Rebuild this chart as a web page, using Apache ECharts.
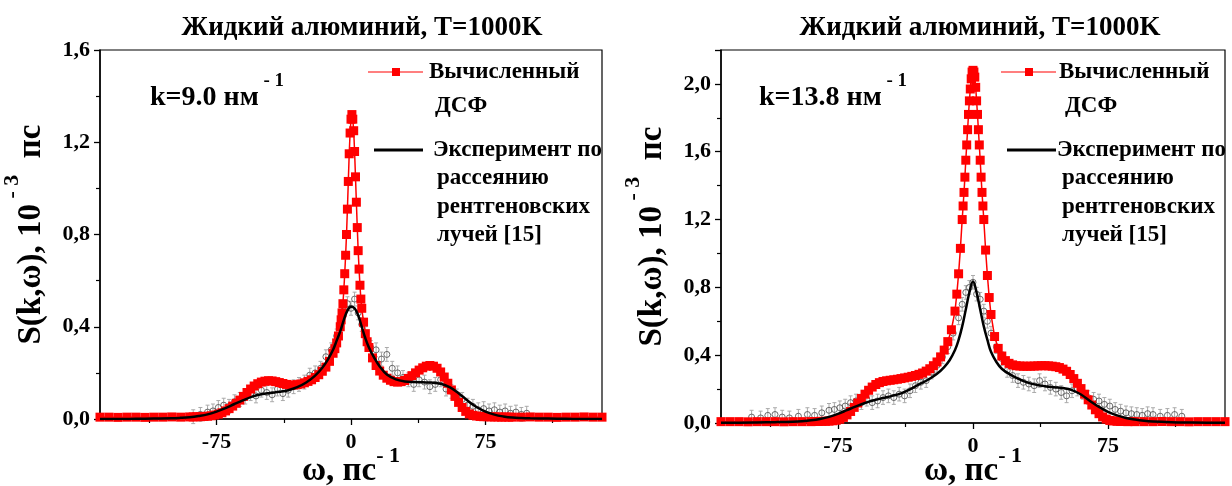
<!DOCTYPE html>
<html>
<head>
<meta charset="utf-8">
<script src="https://cdn.jsdelivr.net/npm/echarts@6/dist/echarts.min.js"></script>
<style>
  html, body { margin: 0; padding: 0; background: #fff; }
  #chart { width: 1232px; height: 486px; }
</style>
</head>
<body>
<div id="chart"></div>
<script>
// === Données ===
const titre = "Жидкий алюминий, T=1000K";
const kLabels = ["k=9.0 нм", "k=13.8 нм"];
const yMax = [1.6, 2.2];
const xMajorTicks = [-75, 0, 75];
const xMinorTicks = [-112.5, -37.5, 37.5, 112.5];

// DSF calculée (carrés rouges)
const omegaCalc = [-140,-135,-130,-125,-120,-115,-110,-105,-100,-95,
  -90,-88,-86,-84,-82,-80,-78,-76,-74,-72,-70,-68,-66,-64,-62,-60,-58,-56,-54,-52,
  -50,-48,-46,-44,-42,-40,-38,-36,-34,-32,-30,-28,-26,-24,-22,-20,-18,-16,-14,-12,-10,
  -9,-8,-7,-6,
  -5.5,-5,-4.5,-4,-3.5,-3,-2.5,-2,-1.5,-1,-0.5,0,0.5,1,1.5,2,2.5,3,3.5,4,4.5,5,5.5,6,
  7,8,9,10,
  12,14,16,18,20,22,24,26,28,30,32,34,36,38,40,42,44,46,48,50,
  52,54,56,58,60,62,64,66,68,70,72,74,76,78,80,82,84,86,88,90,
  95,100,105,110,115,120,125,130,135,140];

const sCalc9 = [0.008,0.008,0.007,0.008,0.008,0.007,0.008,0.008,0.009,0.008,
  0.009,0.009,0.01,0.01,0.011,0.012,0.014,0.017,0.021,0.027,
  0.035,0.045,0.056,0.068,0.082,0.098,0.115,0.13,0.143,0.153,
  0.16,0.164,0.166,0.165,0.162,0.158,0.154,0.15,0.147,0.147,
  0.149,0.152,0.157,0.163,0.17,0.18,0.192,0.207,0.225,0.25,0.285,
  0.305,0.33,0.36,0.4,
  0.43,0.46,0.5,0.56,0.63,0.71,0.8,0.91,1.03,1.15,1.24,1.3,1.32,1.3,1.25,1.16,1.05,0.94,0.83,0.73,0.65,0.58,0.52,0.48,
  0.42,0.37,0.335,0.31,
  0.265,0.232,0.208,0.19,0.177,0.168,0.162,0.16,0.162,0.167,
  0.176,0.188,0.2,0.212,0.222,0.229,0.232,0.229,0.22,0.204,
  0.182,0.155,0.126,0.098,0.072,0.05,0.033,0.022,0.016,0.013,
  0.011,0.01,0.01,0.009,0.009,0.009,0.008,0.009,0.008,0.008,
  0.008,0.009,0.008,0.008,0.007,0.008,0.008,0.009,0.008,0.008];

const sCalc138 = [0.008,0.008,0.008,0.007,0.008,0.008,0.008,0.007,0.008,0.008,
  0.008,0.009,0.009,0.01,0.01,0.011,0.013,0.016,0.022,0.033,
  0.048,0.068,0.092,0.118,0.145,0.17,0.193,0.212,0.227,0.238,
  0.245,0.249,0.252,0.255,0.258,0.262,0.266,0.27,0.275,0.28,
  0.287,0.295,0.306,0.32,0.338,0.36,0.39,0.43,0.48,0.55,0.66,
  0.76,0.88,1.03,1.2,
  1.28,1.36,1.45,1.55,1.64,1.73,1.82,1.9,1.97,2.03,2.07,2.08,2.07,2.04,1.98,1.9,1.82,1.73,1.64,1.55,1.45,1.36,1.28,1.2,
  1.02,0.87,0.74,0.64,
  0.51,0.44,0.395,0.368,0.352,0.343,0.338,0.336,0.335,0.335,
  0.335,0.336,0.337,0.338,0.338,0.337,0.335,0.332,0.327,0.318,
  0.305,0.286,0.262,0.234,0.203,0.17,0.137,0.106,0.078,0.055,
  0.036,0.023,0.015,0.012,0.01,0.009,0.009,0.008,0.009,0.008,
  0.008,0.008,0.009,0.008,0.008,0.007,0.008,0.008,0.008,0.008];

// Ajustement de l'expérience (ligne noire)
const omegaFit = [-140,-130,-120,-110,-100,-95,-90,-85,-80,-75,-70,-65,-60,-55,-50,
  -45,-40,-35,-30,-25,-20,-16,-13,-10,-8,-6,-4,-2,0,2,4,6,8,10,13,16,20,
  25,30,35,40,45,50,55,60,65,70,75,80,85,90,95,100,110,120,130,140];

const sFit9 = [0,0,0.001,0.002,0.003,0.005,0.008,0.013,0.02,0.032,0.047,0.065,0.082,0.097,0.107,
  0.113,0.118,0.125,0.138,0.158,0.188,0.222,0.256,0.3,0.34,0.38,0.43,0.47,0.487,0.48,0.45,0.4,0.35,0.31,0.265,0.228,0.193,
  0.172,0.163,0.16,0.159,0.158,0.153,0.138,0.112,0.08,0.052,0.032,0.019,0.011,0.006,0.004,0.003,0.002,0.001,0,0];

const sFit138 = [0.002,0.002,0.003,0.005,0.008,0.011,0.016,0.024,0.036,0.054,0.076,0.098,0.118,0.134,0.147,
  0.16,0.175,0.198,0.228,0.255,0.29,0.33,0.37,0.43,0.49,0.57,0.67,0.77,0.835,0.77,0.67,0.57,0.49,0.42,0.36,0.32,0.29,
  0.262,0.24,0.226,0.217,0.211,0.206,0.194,0.168,0.13,0.095,0.066,0.045,0.03,0.02,0.013,0.009,0.005,0.003,0.002,0.002];

// Points expérimentaux (cercles gris)
const omegaExp9 = [-88,-84,-80,-77,-74,-71,-68,-65,-62,-59,-56,-53,-50,-47,-44,-41,-38,-35,-32,-29,
  -26,-23,-20,-17,-14,-11,-8,-6,-4,-2,0,2,4,6,8,11,14,17,20,23,
  26,29,32,35,38,41,44,47,50,53,56,59,62,65,68,71,74,77,80,83,86,89,92,95,98];
const sExp9 = [0.01,0.02,0.03,0.035,0.05,0.06,0.055,0.075,0.085,0.095,0.11,0.1,0.125,0.115,0.105,0.13,0.11,0.125,0.14,0.15,
  0.16,0.19,0.2,0.22,0.27,0.3,0.36,0.42,0.47,0.5,0.48,0.52,0.46,0.41,0.37,0.31,0.3,0.26,0.28,0.22,
  0.2,0.18,0.17,0.15,0.17,0.16,0.14,0.15,0.17,0.13,0.12,0.1,0.085,0.06,0.055,0.04,0.045,0.035,0.04,0.03,0.035,0.025,0.03,0.02,0.025];
const errExp9 = 0.03;

const omegaExp138 = [-123,-118,-114,-110,-106,-102,-97,-92,-88,-84,-80,-77,-74,-71,-68,-65,-62,-59,-56,-53,
  -50,-47,-44,-41,-38,-35,-32,-29,-26,-23,-20,-17,-14,-11,-8,-6,-4,-2,0,2,
  4,6,8,10,13,16,19,22,25,28,31,34,37,40,43,46,49,52,55,58,
  61,64,67,70,73,76,79,82,85,88,91,94,97,100,104,108,112,116];
const sExp138 = [0.035,0.03,0.045,0.05,0.035,0.03,0.04,0.05,0.045,0.06,0.075,0.08,0.09,0.1,0.12,0.13,0.12,0.14,0.12,0.13,
  0.15,0.16,0.15,0.17,0.16,0.19,0.22,0.24,0.25,0.3,0.34,0.39,0.45,0.53,0.62,0.7,0.77,0.8,0.83,0.76,
  0.73,0.66,0.6,0.53,0.45,0.38,0.31,0.28,0.25,0.24,0.23,0.22,0.25,0.23,0.21,0.2,0.18,0.16,0.19,0.2,
  0.18,0.15,0.14,0.13,0.11,0.1,0.08,0.07,0.06,0.055,0.05,0.045,0.055,0.05,0.04,0.045,0.05,0.04];
const errExp138 = 0.04;

// === Mise en page ===
const FONT = '"Liberation Serif", "DejaVu Serif", serif';
const grilles = [
  { left: 100, top: 50, width: 502, height: 369 },
  { left: 721, top: 50, width: 504, height: 373 }
];
const nameGapX = [26, 22];
const titreX = [357, 975];
const kPos = [[150, 92], [759, 92]];
// x de la ligne du symbole, y de la première ligne, puis x des textes
const legendePos = [
  { x: 368, y: 72, tx: [429, 435, 433, 437] },
  { x: 1001, y: 72, tx: [1059, 1065, 1057, 1062] }
];

function zip(xs, ys) {
  return xs.map((x, i) => [x, ys[i]]);
}

function virgule(v) {
  return v.toFixed(1).replace(".", ",");
}

const txt = (size) => ({ fontFamily: FONT, fontWeight: "bold", fontSize: size, color: "#000" });

function axesX(i) {
  const base = {
    gridIndex: i, type: "value", min: -140, max: 140, position: "bottom",
    splitLine: { show: false }
  };
  const major = Object.assign({}, base, {
    axisLine: { onZero: false, lineStyle: { color: "#000", width: 1.5 } },
    axisTick: { customValues: xMajorTicks, length: 6, lineStyle: { color: "#000", width: 1.3 } },
    axisLabel: Object.assign(txt(22), { customValues: xMajorTicks, margin: 12, formatter: v => String(v) }),
    name: "{a|ω, пс}{s|- 1}",
    nameLocation: "middle",
    nameGap: nameGapX[i],
    nameMoveOverlap: false,
    nameTextStyle: {
      rich: {
        a: Object.assign(txt(33), { padding: [10, 0, 0, 0], verticalAlign: "bottom" }),
        s: Object.assign(txt(22), { verticalAlign: "top" })
      }
    }
  });
  const minor = Object.assign({}, base, {
    axisLine: { show: false, onZero: false },
    axisTick: { customValues: xMinorTicks, length: 4, lineStyle: { color: "#000", width: 1.2 } },
    axisLabel: { show: false }
  });
  return [major, minor];
}

function axeY(i) {
  return {
    gridIndex: i, type: "value", min: 0, max: yMax[i], interval: 0.4,
    splitLine: { show: false },
    axisLine: { show: true, onZero: false, lineStyle: { color: "#000", width: 1.5 } },
    axisTick: { show: true, length: 6, lineStyle: { color: "#000", width: 1.3 } },
    minorTick: { show: true, splitNumber: 2, length: 4, lineStyle: { color: "#000", width: 1.2 } },
    axisLabel: Object.assign(txt(22), { margin: 10, showMaxLabel: i === 0, formatter: virgule }),
    name: "{a|S(k,ω), 10}{s| - 3}{a|  пс}",
    nameLocation: "middle",
    nameGap: 52,
    nameMoveOverlap: false,
    nameTextStyle: {
      rich: {
        a: Object.assign(txt(33), { padding: [14, 0, 0, 0], verticalAlign: "bottom" }),
        s: Object.assign(txt(22), { verticalAlign: "top" })
      }
    }
  };
}

function seriesPanel(i, omegaC, sC, sF, omegaE, sE, err) {
  return [
    {
      type: "custom", xAxisIndex: 2 * i, yAxisIndex: i, z: 1, silent: true,
      data: omegaE.map((w, j) => [w, sE[j], err]),
      renderItem: (params, api) => {
        const haut = api.coord([api.value(0), api.value(1) + api.value(2)]);
        const bas = api.coord([api.value(0), api.value(1) - api.value(2)]);
        const st = { stroke: "#aaaaaa", lineWidth: 1 };
        return {
          type: "group",
          children: [
            { type: "line", shape: { x1: haut[0], y1: haut[1], x2: bas[0], y2: bas[1] }, style: st },
            { type: "line", shape: { x1: haut[0] - 2, y1: haut[1], x2: haut[0] + 2, y2: haut[1] }, style: st },
            { type: "line", shape: { x1: bas[0] - 2, y1: bas[1], x2: bas[0] + 2, y2: bas[1] }, style: st }
          ]
        };
      }
    },
    {
      type: "scatter", xAxisIndex: 2 * i, yAxisIndex: i, z: 2,
      data: zip(omegaE, sE),
      symbol: "circle", symbolSize: 6,
      itemStyle: { color: "rgba(255,255,255,0)", borderColor: "#4a4a4a", borderWidth: 1 }
    },
    {
      type: "line", xAxisIndex: 2 * i, yAxisIndex: i, z: 3,
      data: zip(omegaC, sC),
      symbol: "rect", symbolSize: 9,
      itemStyle: { color: "#ff0000" },
      lineStyle: { color: "#ff0000", width: 1.5 }
    },
    {
      type: "line", xAxisIndex: 2 * i, yAxisIndex: i, z: 4,
      data: zip(omegaFit, sF),
      smooth: 0.4, showSymbol: false,
      lineStyle: { color: "#000", width: 2.5 }
    }
  ];
}

function legende(p, kx, ky, kText) {
  const ligne = (t, x, y) => ({
    type: "text", x: x, y: y,
    style: { text: t, fill: "#000", font: "bold 23px " + FONT, verticalAlign: "middle" }
  });
  const x0 = p.x, y0 = p.y;
  return [
    { type: "line", shape: { x1: x0, y1: y0, x2: x0 + 55, y2: y0 }, style: { stroke: "#ff0000", lineWidth: 1.2 } },
    { type: "rect", shape: { x: x0 + 24, y: y0 - 4, width: 8, height: 8 }, style: { fill: "#ff0000" } },
    ligne("Вычисленный", p.tx[0], y0),
    ligne("ДСФ", p.tx[1], y0 + 34),
    { type: "line", shape: { x1: x0 + 6, y1: y0 + 78, x2: x0 + 55, y2: y0 + 78 }, style: { stroke: "#000", lineWidth: 3 } },
    ligne("Эксперимент по", p.tx[2], y0 + 78),
    ligne("рассеянию", p.tx[3], y0 + 106),
    ligne("рентгеновских", p.tx[3], y0 + 135),
    ligne("лучей [15]", p.tx[3], y0 + 163),
    {
      type: "text", x: kx, y: ky,
      style: {
        text: "{a|" + kText + "}{s| - 1}",
        verticalAlign: "middle",
        rich: {
          a: { fontFamily: FONT, fontWeight: "bold", fontSize: 28, fill: "#000", padding: [12, 0, 0, 0], verticalAlign: "bottom" },
          s: { fontFamily: FONT, fontWeight: "bold", fontSize: 19, fill: "#000", verticalAlign: "top" }
        }
      }
    }
  ];
}

// === Graphique ===
document.addEventListener("DOMContentLoaded", () => {
  const chart = echarts.init(document.getElementById("chart"));
  const option = {
    animation: false,
    backgroundColor: "#fff",
    title: [0, 1].map(i => ({
      text: titre, left: titreX[i], top: 10, textAlign: "center",
      textStyle: txt(27)
    })),
    grid: grilles.map(g => Object.assign({
      show: true, borderColor: "#000", borderWidth: 1.2, outerBoundsMode: "none", containLabel: false
    }, g)),
    xAxis: [...axesX(0), ...axesX(1)],
    yAxis: [axeY(0), axeY(1)],
    series: [
      ...seriesPanel(0, omegaCalc, sCalc9, sFit9, omegaExp9, sExp9, errExp9),
      ...seriesPanel(1, omegaCalc, sCalc138, sFit138, omegaExp138, sExp138, errExp138)
    ],
    graphic: [
      ...legende(legendePos[0], kPos[0][0], kPos[0][1], kLabels[0]),
      ...legende(legendePos[1], kPos[1][0], kPos[1][1], kLabels[1])
    ]
  };
  chart.setOption(option);
});
</script>
</body>
</html>
